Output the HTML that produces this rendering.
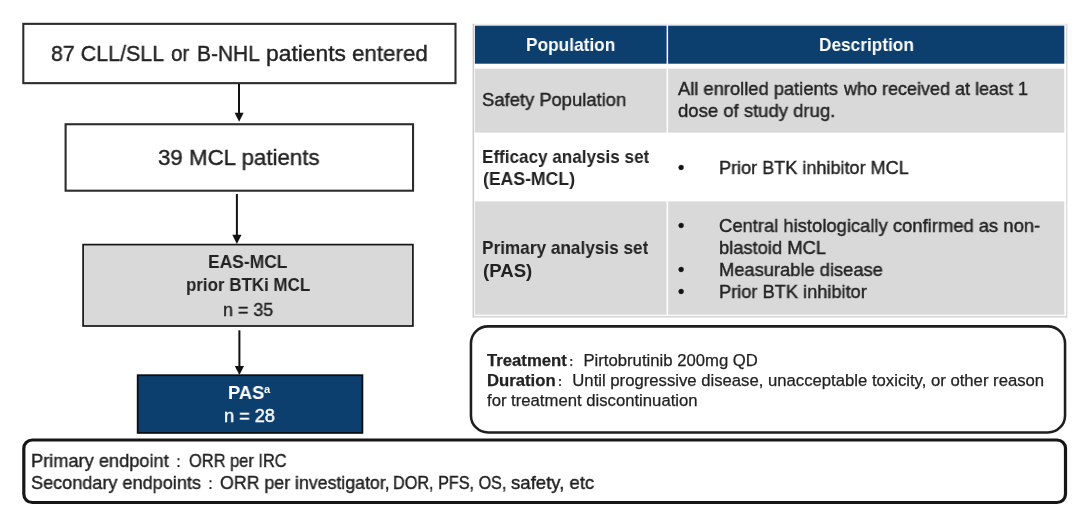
<!DOCTYPE html>
<html><head><meta charset="utf-8">
<style>
html,body{margin:0;padding:0;background:#fff;}
body{width:1080px;height:512px;position:relative;overflow:hidden;font-family:"Liberation Sans","Noto Sans CJK SC",sans-serif;color:#222;}
.abs{position:absolute;box-sizing:border-box;}
.t{position:absolute;white-space:nowrap;line-height:1;transform-origin:0 0;will-change:transform;}
.cn{font-size:10px;font-weight:bold;margin:0 4.7px 0 2px;}
.wq{font-family:"Liberation Sans","WenQuanYi Zen Hei",sans-serif;}
</style></head><body>

<!-- flow boxes -->
<svg class="abs" style="left:0;top:0" width="1080" height="512">
 <rect x="23.3" y="23.85" width="432.2" height="59.3" fill="#fff" stroke="#2c2c2c" stroke-width="2.1"/>
 <rect x="65.6" y="124.25" width="347.45" height="66.45" fill="#fff" stroke="#2c2c2c" stroke-width="2.1"/>
 <rect x="83.1" y="244.6" width="329.8" height="81.4" fill="#d9d9d9" stroke="#161616" stroke-width="1.7"/>
 <rect x="137.7" y="375.2" width="224.7" height="57.7" fill="#0c3e6e" stroke="#0a0f16" stroke-width="1.8"/>
</svg>

<!-- arrows -->
<svg class="abs" style="left:0;top:0" width="1080" height="512">
 <g fill="#111" stroke="none">
  <rect x="238" y="84" width="2" height="30"/><polygon points="234.6,112.7 243.6,112.7 239.1,121.8"/>
  <rect x="235.9" y="194" width="2" height="42"/><polygon points="232.3,234.7 241.5,234.7 236.9,244"/>
  <rect x="238.4" y="330.3" width="2" height="38"/><polygon points="234.8,366 244,366 239.4,375"/>
 </g>
</svg>

<!-- table -->
<svg class="abs" style="left:0;top:0" width="1080" height="512">
 <rect x="472.6" y="23.8" width="594.8" height="293.7" fill="#fff"/>
 <rect x="472.6" y="23.8" width="594.8" height="1.6" fill="#ebebeb"/>
 <rect x="472.6" y="23.8" width="1.5" height="293.7" fill="#cbcbcb"/>
 <rect x="1066" y="23.8" width="1.4" height="293.7" fill="#dcdcdc"/>
 <rect x="472.6" y="315.9" width="594.8" height="1.6" fill="#d6d6d6"/>
 <rect x="474.9" y="25.7" width="191.7" height="38.0" fill="#0c3e6e"/>
 <rect x="668.1" y="25.7" width="396.2" height="38.0" fill="#0c3e6e"/>
 <rect x="474.9" y="68.7" width="191.7" height="63.9" fill="#d9d9d9"/>
 <rect x="668.1" y="68.7" width="396.2" height="63.9" fill="#d9d9d9"/>
 <rect x="474.9" y="201.4" width="191.7" height="113.3" fill="#d9d9d9"/>
 <rect x="668.1" y="201.4" width="396.2" height="113.3" fill="#d9d9d9"/>
</svg>

<!-- treatment box -->
<svg class="abs" style="left:0;top:0" width="1080" height="512">
 <rect x="470.95" y="326.35" width="594.1" height="106.1" rx="17" ry="17" fill="#fff" stroke="#1e1e1e" stroke-width="2.55"/>
</svg>
<div class="t" id="tr1" style="-webkit-text-stroke:0.25px;left:487px;top:352.9px;font-size:16.7px;"><b>Treatment</b><span class="cn">：</span>Pirtobrutinib 200mg QD</div>
<div class="t" id="tr2" style="-webkit-text-stroke:0.25px;left:487px;top:373px;font-size:16.7px;"><b>Duration</b><span class="cn">：</span>Until progressive disease, unacceptable toxicity, or other reason</div>
<div class="t" id="tr3" style="-webkit-text-stroke:0.25px;left:487px;top:393.1px;font-size:16.7px;">for treatment discontinuation</div>

<!-- endpoints box -->
<svg class="abs" style="left:0;top:0" width="1080" height="512"><rect x="23.8" y="440" width="1041.7" height="62.5" rx="8.5" ry="8.5" fill="#fff" stroke="#161616" stroke-width="3.2"/></svg>
<div class="t wq" id="e1b" style="left:169.8px;top:453px;font-size:17px;">：</div>
<div class="t wq" id="e2b" style="left:202.1px;top:475px;font-size:17px;">：</div>

<div class="t" id="t1a" style="left:50.65px;top:41.98px;font-size:22.7px;color:#222;transform:scaleX(0.9436);-webkit-text-stroke:0.4px;">87 CLL/SLL</div>
<div class="t" id="t1d" style="left:171.08px;top:41.98px;font-size:22.7px;color:#222;transform:scaleX(0.9089);-webkit-text-stroke:0.4px;">or</div>
<div class="t" id="t1e" style="left:197.24px;top:41.98px;font-size:22.7px;color:#222;transform:scaleX(0.9224);-webkit-text-stroke:0.4px;">B-NHL</div>
<div class="t" id="t1b" style="left:266.39px;top:41.98px;font-size:22.7px;color:#222;transform:scaleX(1.0057);-webkit-text-stroke:0.4px;">patients</div>
<div class="t" id="t1c" style="left:352.41px;top:41.98px;font-size:22.7px;color:#222;transform:scaleX(0.9857);-webkit-text-stroke:0.4px;">entered</div>
<div class="t" id="t2" style="left:157.81px;top:146.38px;font-size:22.7px;color:#222;transform:scaleX(0.9832);-webkit-text-stroke:0.4px;">39 MCL patients</div>
<div class="t" id="t3a" style="left:208.27px;top:253.06px;font-size:18.6px;color:#222;transform:scaleX(0.9377);font-weight:bold;">EAS-MCL</div>
<div class="t" id="t3b" style="left:185.81px;top:276.46px;font-size:18.6px;color:#222;transform:scaleX(0.9107);font-weight:bold;">prior BTKi MCL</div>
<div class="t" id="t3c" style="left:222.75px;top:300.56px;font-size:18.6px;color:#222;transform:scaleX(0.9625);-webkit-text-stroke:0.4px;">n = 35</div>
<div class="t" id="t4a" style="left:228.22px;top:383.66px;font-size:18.6px;color:#fff;transform:scaleX(0.9840);font-weight:bold;">PAS</div>
<div class="t" id="t4s" style="left:264.29px;top:383.69px;font-size:11px;color:#fff;transform:scaleX(1.0169);font-weight:bold;">a</div>
<div class="t" id="t4b" style="left:223.73px;top:407.26px;font-size:18.6px;color:#fff;transform:scaleX(0.9764);-webkit-text-stroke:0.4px;">n = 28</div>
<div class="t" id="h1" style="left:526.38px;top:35.66px;font-size:18.6px;color:#fff;transform:scaleX(0.9294);font-weight:bold;">Population</div>
<div class="t" id="h2" style="left:818.89px;top:35.66px;font-size:18.6px;color:#fff;transform:scaleX(0.9275);font-weight:bold;">Description</div>
<div class="t" id="r1a" style="left:481.51px;top:91.26px;font-size:18.6px;color:#222;transform:scaleX(0.9892);-webkit-text-stroke:0.4px;">Safety Population</div>
<div class="t" id="r1b" style="left:678.30px;top:80.06px;font-size:18.6px;color:#222;transform:scaleX(0.9850);-webkit-text-stroke:0.4px;">All enrolled patients</div>
<div class="t" id="r1d" style="left:844.20px;top:80.06px;font-size:18.6px;color:#222;transform:scaleX(0.9678);-webkit-text-stroke:0.4px;">who received at least 1</div>
<div class="t" id="r1c" style="left:677.60px;top:101.76px;font-size:18.6px;color:#222;transform:scaleX(0.9947);-webkit-text-stroke:0.4px;">dose of study drug.</div>
<div class="t" id="r2a" style="left:481.60px;top:147.66px;font-size:18.6px;color:#222;transform:scaleX(0.9192);font-weight:bold;">Efficacy analysis set</div>
<div class="t" id="r2b" style="left:482.55px;top:170.16px;font-size:18.6px;color:#222;transform:scaleX(0.9473);font-weight:bold;">(EAS-MCL)</div>
<div class="t" id="r2c" style="left:678.33px;top:158.66px;font-size:18.6px;color:#111;transform:scaleX(0.9608);-webkit-text-stroke:0.4px;">•</div>
<div class="t" id="r2d" style="left:718.94px;top:158.66px;font-size:18.6px;color:#222;transform:scaleX(0.9715);-webkit-text-stroke:0.4px;">Prior BTK inhibitor MCL</div>
<div class="t" id="r3a" style="left:481.59px;top:239.26px;font-size:18.6px;color:#222;transform:scaleX(0.9248);font-weight:bold;">Primary analysis set</div>
<div class="t" id="r3b" style="left:482.51px;top:262.06px;font-size:18.6px;color:#222;transform:scaleX(0.9925);font-weight:bold;">(PAS)</div>
<div class="t" id="r3c" style="left:678.33px;top:217.46px;font-size:18.6px;color:#111;transform:scaleX(0.9608);-webkit-text-stroke:0.4px;">•</div>
<div class="t" id="r3d" style="left:719.31px;top:217.46px;font-size:18.6px;color:#222;transform:scaleX(0.9897);-webkit-text-stroke:0.4px;">Central histologically confirmed as non-</div>
<div class="t" id="r3e" style="left:719.32px;top:239.36px;font-size:18.6px;color:#222;transform:scaleX(0.9859);-webkit-text-stroke:0.4px;">blastoid MCL</div>
<div class="t" id="r3f" style="left:678.33px;top:261.16px;font-size:18.6px;color:#111;transform:scaleX(0.9608);-webkit-text-stroke:0.4px;">•</div>
<div class="t" id="r3g" style="left:718.92px;top:261.16px;font-size:18.6px;color:#222;transform:scaleX(0.9847);-webkit-text-stroke:0.4px;">Measurable disease</div>
<div class="t" id="r3h" style="left:678.33px;top:283.26px;font-size:18.6px;color:#111;transform:scaleX(0.9608);-webkit-text-stroke:0.4px;">•</div>
<div class="t" id="r3i" style="left:718.93px;top:283.26px;font-size:18.6px;color:#222;transform:scaleX(0.9797);-webkit-text-stroke:0.4px;">Prior BTK inhibitor</div>
<div class="t" id="e1a" style="left:31.13px;top:451.56px;font-size:18.6px;color:#222;transform:scaleX(0.9796);-webkit-text-stroke:0.4px;">Primary endpoint</div>
<div class="t" id="e1c" style="left:188.69px;top:451.56px;font-size:18.6px;color:#222;transform:scaleX(0.8832);-webkit-text-stroke:0.4px;">ORR per IRC</div>
<div class="t" id="e2a" style="left:31.42px;top:474.26px;font-size:18.6px;color:#222;transform:scaleX(0.9726);-webkit-text-stroke:0.4px;">Secondary endpoints</div>
<div class="t" id="e2c" style="left:220.44px;top:474.26px;font-size:18.6px;color:#222;transform:scaleX(0.9547);-webkit-text-stroke:0.4px;">ORR per investigator,</div>
<div class="t" id="e2d" style="left:393.49px;top:474.26px;font-size:18.6px;color:#222;transform:scaleX(0.8713);-webkit-text-stroke:0.4px;">DOR, PFS, OS,</div>
<div class="t" id="e2e" style="left:510.50px;top:474.26px;font-size:18.6px;color:#222;transform:scaleX(0.9977);-webkit-text-stroke:0.4px;">safety, etc</div>
</body></html>
